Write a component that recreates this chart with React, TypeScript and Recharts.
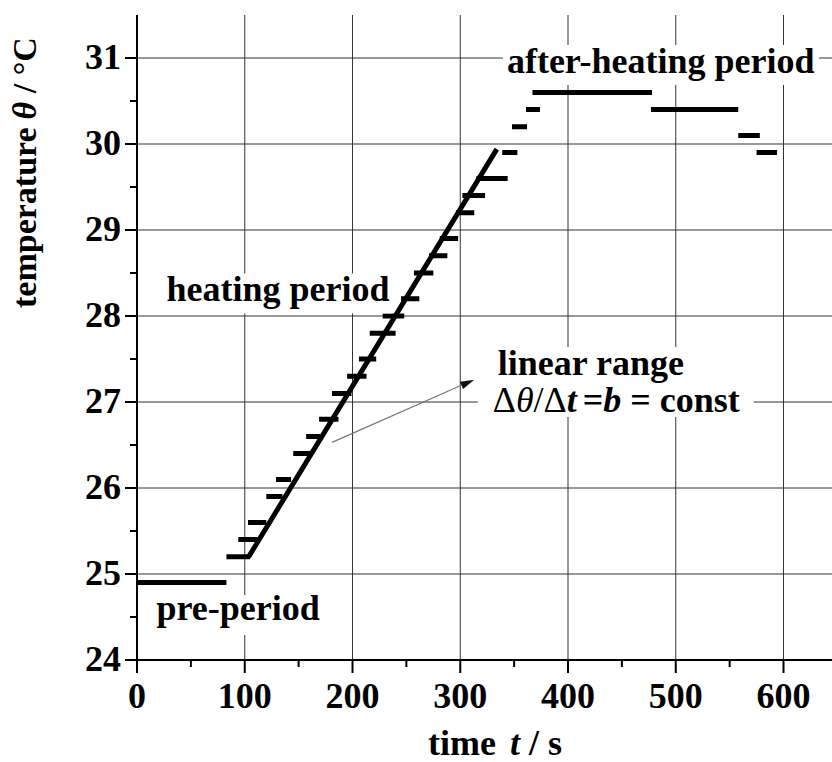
import { LineChart, Line, XAxis, YAxis, CartesianGrid, ReferenceDot, ReferenceLine } from "recharts";

// one horizontal dash per reading: start time, end time (s), temperature (°C)
const stepStart = [0, 83, 94, 103, 120, 129, 145, 157, 169, 181, 195, 206, 216, 228, 245, 257, 271, 281, 296, 302, 315, 339, 348, 361, 367, 477, 558, 575];
const stepEnd = [83, 105, 112, 120, 135, 143, 162, 170, 187, 199, 213, 222, 240, 248, 262, 275, 288, 298, 313, 323, 344, 353, 362, 374, 478, 558, 578, 594];
const stepTemp = [24.9, 25.2, 25.4, 25.6, 25.9, 26.1, 26.4, 26.6, 26.8, 27.1, 27.3, 27.5, 27.8, 28.0, 28.2, 28.5, 28.7, 28.9, 29.2, 29.4, 29.6, 29.9, 30.2, 30.4, 30.6, 30.4, 30.1, 29.9];

// straight line through the linear range
const fitTime = [103.6, 333.9];
const fitTemp = [25.2, 29.94];

const xTicks = [0, 50, 100, 150, 200, 250, 300, 350, 400, 450, 500, 550, 600];
const yTicks = [24, 24.5, 25, 25.5, 26, 26.5, 27, 27.5, 28, 28.5, 29, 29.5, 30, 30.5, 31];
const xGrid = [100, 200, 300, 400, 500, 600];
const yGrid = [25, 26, 27, 28, 29, 30, 31];

const FONT = "Liberation Serif, Times New Roman, serif";

const stepData = stepTemp.flatMap((v, i) => [
  { t: stepStart[i], v },
  { t: stepEnd[i], v },
  { t: stepEnd[i], v: null },
]);
const fitData = fitTime.map((t, i) => ({ t, v: fitTemp[i] }));

const txt = { fontFamily: FONT, fontWeight: 700, fontSize: 36, fill: "#000" } as const;

const XTick = ({ x, y, payload }: any) => {
  const major = payload.value % 100 === 0;
  return (
    <g>
      <line x1={x} x2={x} y1={y} y2={y + (major ? 13 : 7)} stroke="#000" strokeWidth={2} />
      {major && (
        <text x={x} y={y + 48} textAnchor="middle" {...txt}>
          {payload.value}
        </text>
      )}
    </g>
  );
};

const YTick = ({ x, y, payload }: any) => {
  const major = Number.isInteger(payload.value);
  return (
    <g>
      <line x1={x} x2={x - (major ? 12 : 7)} y1={y} y2={y} stroke="#000" strokeWidth={2} />
      {major && (
        <text x={x - 16} y={y + 11} textAnchor="end" {...txt}>
          {payload.value}
        </text>
      )}
    </g>
  );
};

const Arrow = ({ x1, y1, x2, y2 }: any) => {
  const a = Math.atan2(y2 - y1, x2 - x1);
  const c = Math.cos(a);
  const s = Math.sin(a);
  const bx = x2 - 14 * c;
  const by = y2 - 14 * s;
  const pts = `${x2},${y2} ${bx - 4 * s},${by + 4 * c} ${bx + 4 * s},${by - 4 * c}`;
  return (
    <g>
      <line x1={x1} y1={y1} x2={bx} y2={by} stroke="#777" strokeWidth={1.2} />
      <polygon points={pts} fill="#111" />
    </g>
  );
};

// text note with white box behind it, anchored at text start / baseline
const note = (box: [number, number, number, number], body: (x: number, y: number) => any) =>
  ({ cx, cy }: any) => (
    <g>
      <rect x={cx + box[0]} y={cy + box[1]} width={box[2]} height={box[3]} fill="#fff" />
      {body(cx, cy)}
    </g>
  );

const afterNote = note([-4, -28, 316, 40], (x, y) => (
  <text x={x} y={y} {...txt}>after-heating period</text>
));
const heatingNote = note([-5, -28, 230, 40], (x, y) => (
  <text x={x} y={y} {...txt}>heating period</text>
));
const preNote = note([-7, -25, 172, 40], (x, y) => (
  <text x={x} y={y} {...txt}>pre-period</text>
));
const linearNote = note([-20, -28, 276, 70], (x, y) => (
  <g>
    <text x={x} y={y} {...txt}>linear range</text>
    <text x={x - 5} y={y + 37} {...txt}>
      <tspan fontWeight={400}>Δ</tspan>
      <tspan fontStyle="italic" fontWeight={400}>θ</tspan>
      <tspan fontWeight={400}>/Δ</tspan>
      <tspan fontStyle="italic">t</tspan>
      <tspan dx={6}>=</tspan>
      <tspan fontStyle="italic">b</tspan>
      <tspan> = const</tspan>
    </text>
  </g>
));

export default function App() {
  return (
    <div style={{ position: "absolute", left: 0, top: 0, width: 832, height: 762, background: "#fff" }}>
      <LineChart width={832} height={762} margin={{ top: 15, right: 0, bottom: 42, left: 77 }}>
        <CartesianGrid
          stroke="#333"
          strokeWidth={1}
          horizontalValues={yGrid}
          verticalValues={xGrid}
        />
        <XAxis
          type="number"
          dataKey="t"
          domain={[0, 645]}
          ticks={xTicks}
          interval={0}
          allowDataOverflow
          height={60}
          tickSize={0}
          tickMargin={0}
          tick={<XTick />}
          axisLine={{ stroke: "#000", strokeWidth: 2 }}
        />
        <YAxis
          type="number"
          domain={[24, 31.5]}
          ticks={yTicks}
          interval={0}
          allowDataOverflow
          width={60}
          tickSize={0}
          tickMargin={0}
          tick={<YTick />}
          axisLine={{ stroke: "#000", strokeWidth: 2 }}
        />
        <Line
          data={stepData}
          dataKey="v"
          stroke="#000"
          strokeWidth={5}
          dot={false}
          connectNulls={false}
          isAnimationActive={false}
        />
        <Line
          data={fitData}
          dataKey="v"
          stroke="#000"
          strokeWidth={5}
          dot={false}
          isAnimationActive={false}
        />
        <ReferenceLine
          segment={[{ x: 181, y: 26.53 }, { x: 313, y: 27.26 }]}
          ifOverflow="visible"
          shape={<Arrow />}
        />
        <ReferenceDot x={343.3} y={30.826} r={1} ifOverflow="visible" shape={afterNote} />
        <ReferenceDot x={27.4} y={28.17} r={1} ifOverflow="visible" shape={heatingNote} />
        <ReferenceDot x={18.1} y={24.465} r={1} ifOverflow="visible" shape={preNote} />
        <ReferenceDot x={334.8} y={27.314} r={1} ifOverflow="visible" shape={linearNote} />
      </LineChart>
      <svg width={832} height={762} style={{ position: "absolute", left: 0, top: 0, pointerEvents: "none" }}>
        <text transform="translate(36,308) rotate(-90)" {...txt} fontSize={34}>
          temperature
          <tspan dx={8} fontStyle="italic">θ</tspan>
          <tspan> / °C</tspan>
        </text>
        <text x={428} y={755} {...txt}>
          time
          <tspan dx={14} fontStyle="italic">t</tspan>
          <tspan> / s</tspan>
        </text>
      </svg>
    </div>
  );
}
